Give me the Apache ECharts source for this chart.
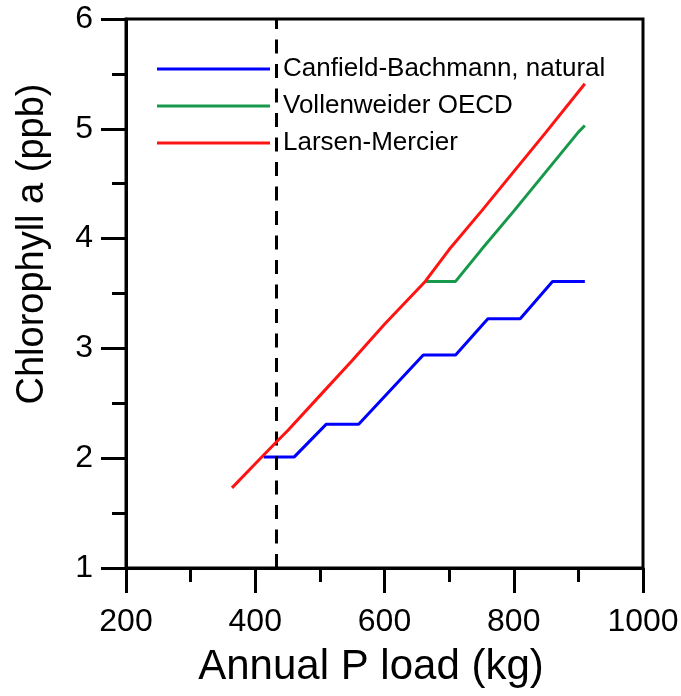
<!DOCTYPE html>
<html><head><meta charset="utf-8">
<script src="https://cdn.jsdelivr.net/npm/echarts@6/dist/echarts.min.js"></script>
<style>html,body{margin:0;padding:0;background:#fff}#c{width:681px;height:696px}</style>
</head><body><div id="c"></div>
<script>
// ---- data ----
const seriesNames = ['Canfield-Bachmann, natural', 'Vollenweider OECD', 'Larsen-Mercier'];
const canfieldLoad = [413, 460, 510, 560, 660, 710, 760, 810, 860, 910];
const canfieldChl  = [2.01, 2.01, 2.31, 2.31, 2.94, 2.94, 3.27, 3.27, 3.61, 3.61];
const vollenweiderLoad = [663, 710, 750, 800, 850, 900, 910];
const vollenweiderChl  = [3.61, 3.61, 3.90, 4.25, 4.61, 4.97, 5.03];
const larsenLoad = [364, 400, 433, 450, 500, 550, 600, 663, 700, 750, 800, 850, 910];
const larsenChl  = [1.73, 1.95, 2.15, 2.25, 2.57, 2.89, 3.22, 3.61, 3.90, 4.25, 4.61, 4.97, 5.41];
const dashedLoad = 433;
const xTickValues = [200, 400, 600, 800, 1000];
const yTickValues = [1, 2, 3, 4, 5, 6];
const xTitle = 'Annual P load (kg)';
const yTitle = 'Chlorophyll a (ppb)';

const FONT = '"Liberation Sans", Arial, sans-serif';
const colors = ['#0000ff', '#16994a', '#ff1414'];
const pair = (xs, ys) => xs.map((x, i) => [x, ys[i]]);

const chart = echarts.init(document.getElementById('c'), null, {renderer: 'canvas'});
const axisCommon = {
  axisLine: {show: true, lineStyle: {color: '#000', width: 3}},
  axisTick: {show: true, inside: false, length: 25, lineStyle: {color: '#000', width: 3}},
  minorTick: {show: true, splitNumber: 2, length: 14, lineStyle: {color: '#000', width: 3}},
  splitLine: {show: false},
  minorSplitLine: {show: false}
};
chart.setOption({
  animation: false,
  backgroundColor: '#fff',
  grid: {left: 126, right: 38, top: 19, bottom: 128, containLabel: false, outerBoundsMode: 'none',
         show: true, borderColor: '#000', borderWidth: 3, backgroundColor: 'transparent'},
  xAxis: Object.assign({
    type: 'value',
    min: xTickValues[0], max: xTickValues[xTickValues.length - 1],
    interval: xTickValues[1] - xTickValues[0],
    axisLabel: {fontSize: 32, color: '#000', fontFamily: FONT, margin: 38, formatter: v => String(v)}
  }, axisCommon),
  yAxis: Object.assign({
    type: 'value',
    min: yTickValues[0], max: yTickValues[yTickValues.length - 1],
    interval: yTickValues[1] - yTickValues[0],
    axisLabel: {fontSize: 32, color: '#000', fontFamily: FONT, margin: 33, formatter: v => String(v)}
  }, axisCommon),
  legend: {
    orient: 'vertical', left: 157, top: 56, padding: 0,
    itemWidth: 113, itemHeight: 3, itemGap: 11, icon: 'rect',
    data: seriesNames,
    textStyle: {fontSize: 26, lineHeight: 26, color: '#000', fontFamily: FONT, padding: [0, 0, 0, 8]}
  },
  graphic: [
    {type: 'text', x: 371, y: 667, style: {text: xTitle, fontSize: 42, fontFamily: FONT, fill: '#000', textAlign: 'center', textVerticalAlign: 'middle'}},
    {type: 'text', x: 33, y: 244, rotation: Math.PI / 2, style: {text: yTitle, fontSize: 38, fontFamily: FONT, fill: '#000', textAlign: 'center', textVerticalAlign: 'middle'}}
  ],
  series: [
    {name: seriesNames[0], type: 'line', data: pair(canfieldLoad, canfieldChl), symbol: 'none', color: colors[0],
     lineStyle: {width: 3, color: colors[0]}, itemStyle: {color: colors[0]}, z: 3,
     markLine: {silent: true, symbol: ['none', 'none'], label: {show: false},
       lineStyle: {color: '#000', width: 3, type: [14, 10.5]}, data: [{xAxis: dashedLoad}]}},
    {name: seriesNames[1], type: 'line', data: pair(vollenweiderLoad, vollenweiderChl), symbol: 'none', color: colors[1],
     lineStyle: {width: 3, color: colors[1]}, itemStyle: {color: colors[1]}, z: 4},
    {name: seriesNames[2], type: 'line', data: pair(larsenLoad, larsenChl), symbol: 'none', color: colors[2],
     lineStyle: {width: 3, color: colors[2]}, itemStyle: {color: colors[2]}, z: 5}
  ]
});
</script></body></html>
